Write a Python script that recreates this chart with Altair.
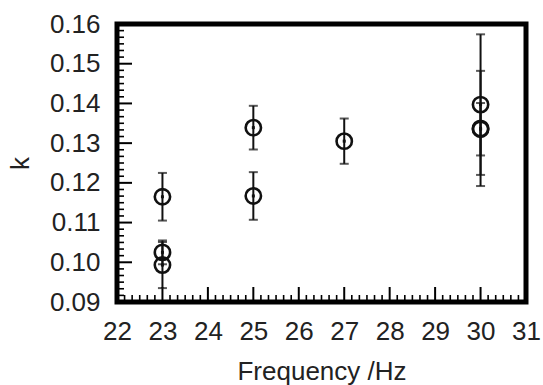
import altair as alt
import pandas as pd

# Data
freq = [23, 23, 23, 25, 25, 27, 30, 30, 30]
k_val = [0.1165, 0.1025, 0.0993, 0.1339, 0.1167, 0.1305, 0.1397, 0.1337, 0.1335]
k_err = [0.0060, 0.0030, 0.0058, 0.0055, 0.0060, 0.0057, 0.0177, 0.0145, 0.0066]

x_major = [22, 23, 24, 25, 26, 27, 28, 29, 30, 31]
y_major = [0.09, 0.10, 0.11, 0.12, 0.13, 0.14, 0.15, 0.16]
x_minor = [m + i / 6 for m in x_major[:-1] for i in range(1, 6)]
y_minor = [m + i * 0.01 / 6 for m in y_major[:-1] for i in range(1, 6)]

W, H = 409, 278
FONT = "Liberation Sans"
INK = "#111"

df = pd.DataFrame({
    "freq": freq,
    "k": k_val,
    "lo": [v - e for v, e in zip(k_val, k_err)],
    "hi": [v + e for v, e in zip(k_val, k_err)],
})
caps = pd.DataFrame({
    "freq": freq + freq,
    "k": list(df["lo"]) + list(df["hi"]),
})

xs = alt.Scale(domain=[22, 31], nice=False, zero=False)
ys = alt.Scale(domain=[0.09, 0.16], nice=False, zero=False)

label_axis_x = alt.Axis(
    values=x_major, format="d", ticks=False, tickSize=0, domain=False, grid=False,
    labelFont=FONT, labelFontSize=26, labelColor="#222", labelPadding=16,
    labelFlush=False, labelOverlap=False,
    title="Frequency /Hz", titleFont=FONT, titleFontSize=26, titleFontWeight="normal",
    titleColor="#222", titleY=77, titleBaseline="alphabetic",
)
label_axis_y = alt.Axis(
    values=y_major, format=".2f", ticks=False, tickSize=0, domain=False, grid=False,
    labelFont=FONT, labelFontSize=26, labelColor="#222", labelPadding=17,
    labelFlush=False, labelOverlap=False,
    title="k", titleFont=FONT, titleFontSize=26, titleFontWeight="normal",
    titleColor="#222", titleX=-89, titleBaseline="alphabetic",
)

bars = alt.Chart(df).mark_rule(color=INK, strokeWidth=2).encode(
    x=alt.X("freq:Q", scale=xs, axis=label_axis_x),
    y=alt.Y("lo:Q", scale=ys, axis=label_axis_y),
    y2="hi:Q",
)
cap_layer = alt.Chart(caps).mark_tick(orient="horizontal", size=9, thickness=2, color=INK).encode(
    x=alt.X("freq:Q", scale=xs, axis=None),
    y=alt.Y("k:Q", scale=ys, axis=None),
)
circles = alt.Chart(df).mark_point(shape="circle", size=235, strokeWidth=2.6,
                                   color=INK, opacity=1, filled=False).encode(
    x=alt.X("freq:Q", scale=xs, axis=None),
    y=alt.Y("k:Q", scale=ys, axis=None),
)
dots = alt.Chart(df).mark_point(shape="square", size=9, filled=True,
                                color=INK, opacity=1).encode(
    x=alt.X("freq:Q", scale=xs, axis=None),
    y=alt.Y("k:Q", scale=ys, axis=None),
)

# inward axis ticks on the bottom and left edges
xmaj = alt.Chart(pd.DataFrame({"v": x_major})).mark_rule(color="black", strokeWidth=2).encode(
    x=alt.X("v:Q", scale=xs, axis=None), y=alt.value(H), y2=alt.value(H - 15))
xmin = alt.Chart(pd.DataFrame({"v": x_minor})).mark_rule(color="black", strokeWidth=1.6).encode(
    x=alt.X("v:Q", scale=xs, axis=None), y=alt.value(H), y2=alt.value(H - 7))
ymaj = alt.Chart(pd.DataFrame({"v": y_major})).mark_rule(color="black", strokeWidth=2).encode(
    y=alt.Y("v:Q", scale=ys, axis=None), x=alt.value(0), x2=alt.value(15))
ymin = alt.Chart(pd.DataFrame({"v": y_minor})).mark_rule(color="black", strokeWidth=1.6).encode(
    y=alt.Y("v:Q", scale=ys, axis=None), x=alt.value(0), x2=alt.value(7))

chart = alt.layer(bars, xmaj, xmin, ymaj, ymin, cap_layer, circles, dots).resolve_axis(
    x="independent", y="independent"
).properties(
    width=W, height=H,
    autosize=alt.AutoSizeParams(type="none"),
    padding={"left": 117, "top": 24, "right": 17, "bottom": 83},
    background="white",
).configure_view(stroke="black", strokeWidth=5)

chart.save("out.html", embed_options={"renderer": "svg", "actions": False})
